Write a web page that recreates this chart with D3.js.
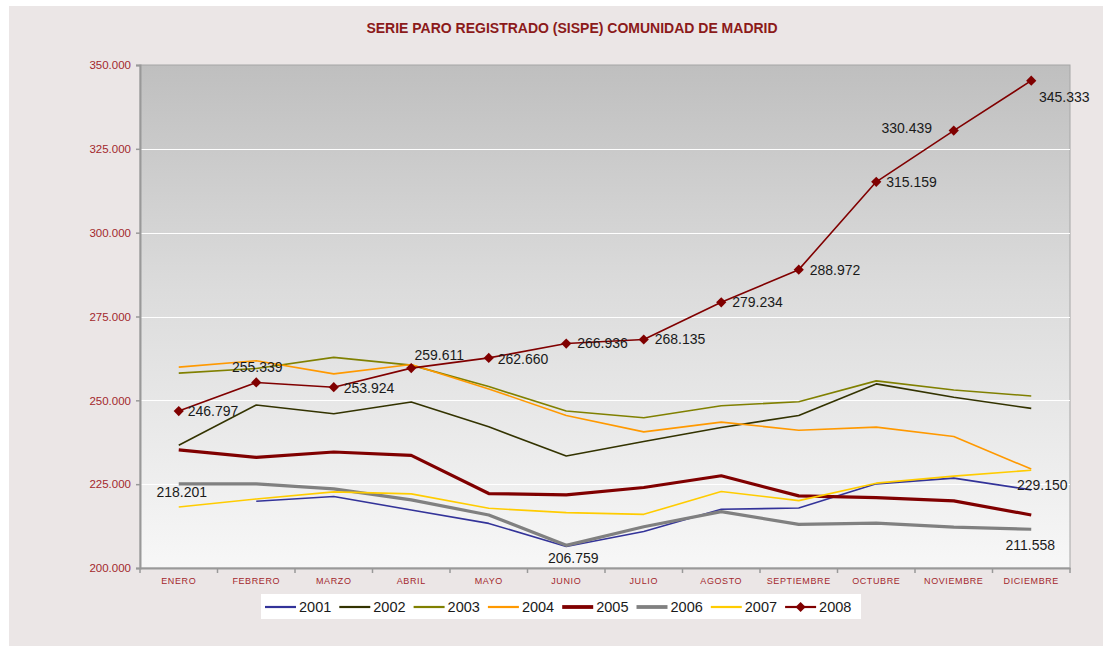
<!DOCTYPE html>
<html>
<head>
<meta charset="utf-8">
<script src="https://cdn.jsdelivr.net/npm/d3@7"></script>
<style>
  html, body { margin: 0; padding: 0; background: #ffffff; }
  svg { display: block; font-family: "Liberation Sans", Arial, sans-serif; }
</style>
</head>
<body>
<svg id="chart" width="1106" height="646"></svg>
<script>
const title = "SERIE PARO REGISTRADO (SISPE) COMUNIDAD DE MADRID";
const months = ["ENERO","FEBRERO","MARZO","ABRIL","MAYO","JUNIO","JULIO","AGOSTO","SEPTIEMBRE","OCTUBRE","NOVIEMBRE","DICIEMBRE"];
const yTicks = [200000, 225000, 250000, 275000, 300000, 325000, 350000];
const years = ["2001","2002","2003","2004","2005","2006","2007","2008"];

const s2001 = [null, 219900, 221300, 217300, 213300, 206400, 210900, 217500, 217900, 225100, 226800, 223300];
const s2002 = [236600, 248600, 246000, 249500, 242100, 233400, 237700, 241900, 245500, 254900, 250900, 247600];
const s2003 = [258100, 259500, 262800, 260500, 254100, 246800, 244800, 248400, 249600, 255800, 253100, 251300];
const s2004 = [259900, 261800, 257900, 260700, 253400, 245500, 240600, 243500, 241100, 242000, 239200, 229500];
const s2005 = [235200, 233000, 234600, 233600, 222200, 221800, 224000, 227500, 221500, 221000, 220000, 215800];
const s2006 = [225100, 225100, 223600, 220300, 215800, 206759, 212300, 216800, 213000, 213400, 212200, 211558];
const s2007 = [218201, 220600, 222700, 222100, 217800, 216500, 216000, 222800, 220100, 225300, 227400, 229150];
const s2008 = [246797, 255339, 253924, 259611, 262660, 266936, 268135, 279234, 288972, 315159, 330439, 345333];

// which points carry a data label: [series, month index]
const labelled = [
  ["2008",0],["2008",1],["2008",2],["2008",3],["2008",4],["2008",5],["2008",6],
  ["2008",7],["2008",8],["2008",9],["2008",10],["2008",11],
  ["2007",0],["2006",5],["2007",11],["2006",11]
];

const seriesValues = {"2001":s2001,"2002":s2002,"2003":s2003,"2004":s2004,"2005":s2005,"2006":s2006,"2007":s2007,"2008":s2008};

// styles
const styles = {
  "2001": {color:"#333399", width:1.6},
  "2002": {color:"#333300", width:1.6},
  "2003": {color:"#808000", width:1.6},
  "2004": {color:"#ff9900", width:1.6},
  "2005": {color:"#800000", width:3.2},
  "2006": {color:"#808080", width:3.2},
  "2007": {color:"#ffcc00", width:1.6},
  "2008": {color:"#800000", width:1.6, marker:true}
};
// label placement (dx, dy relative to point, anchor)
const labelPos = {
  "2008-0":[9,0,"start"], "2008-1":[1,-15,"middle"], "2008-2":[10,1,"start"], "2008-3":[28,-13,"middle"],
  "2008-4":[9,1,"start"], "2008-5":[11,0,"start"], "2008-6":[11,0,"start"], "2008-7":[11,0,"start"],
  "2008-8":[11,0,"start"], "2008-9":[10,0,"start"], "2008-10":[-47,-2,"middle"], "2008-11":[33,16,"middle"],
  "2007-0":[3,-15,"middle"], "2006-5":[7,13,"middle"], "2007-11":[11,15,"middle"], "2006-11":[-1,16,"middle"]
};

const svg = d3.select("#chart");
const m = {left:140, right:1070, top:65, bottom:568};

// outer panel
svg.append("rect").attr("x",9).attr("y",6).attr("width",1094).attr("height",640).attr("fill","#ebe6e6");

const defs = svg.append("defs");
const grad = defs.append("linearGradient").attr("id","bg").attr("x1",0).attr("y1",0).attr("x2",0).attr("y2",1);
grad.append("stop").attr("offset","0%").attr("stop-color","#bfbfbf");
grad.append("stop").attr("offset","45%").attr("stop-color","#dcdcdc");
grad.append("stop").attr("offset","100%").attr("stop-color","#f7f7f7");

const x = d3.scaleBand().domain(months).range([m.left, m.right]);
const y = d3.scaleLinear().domain([200000, 350000]).range([m.bottom, m.top]);

svg.append("rect").attr("x",m.left).attr("y",m.top).attr("width",m.right-m.left).attr("height",m.bottom-m.top)
  .attr("fill","url(#bg)").attr("stroke","#a6a6a6").attr("stroke-width",1);

// gridlines
svg.append("g").selectAll("line").data(yTicks.slice(1,-1)).join("line")
  .attr("x1",m.left).attr("x2",m.right).attr("y1",d=>Math.round(y(d))+0.5).attr("y2",d=>Math.round(y(d))+0.5)
  .attr("stroke","#ffffff").attr("stroke-width",1);

// title
svg.append("text").attr("x",572).attr("y",33).attr("text-anchor","middle")
  .attr("font-size",14).attr("font-weight","bold").attr("fill","#8b1a1a").attr("letter-spacing",0).text(title);

const fmt = v => d3.format(",")(v).replace(/,/g,".");
const fmtAxis = v => d3.format(",.3f")(v/1000).replace(/,/g,"");

// y axis
const yAxis = d3.axisLeft(y).tickValues(yTicks).tickSize(4).tickFormat(v => fmtAxis(v));
const gy = svg.append("g").attr("transform",`translate(${m.left},0)`).call(yAxis);
gy.select(".domain").attr("stroke","#999999").attr("stroke-width",2);
gy.selectAll(".tick line").attr("stroke","#999999").attr("stroke-width",1.5);
gy.selectAll(".tick text").attr("fill","#a3282d").attr("font-size",11.5).attr("x",-9)
  .attr("font-family","'Liberation Sans', Arial, sans-serif");

// x axis
const xAxis = d3.axisBottom(x).tickSize(0).tickPadding(10);
const gx = svg.append("g").attr("transform",`translate(0,${m.bottom})`).call(xAxis);
gx.select(".domain").attr("stroke","#999999").attr("stroke-width",2);
gx.selectAll(".tick text").attr("fill","#a3282d").attr("font-size",9).attr("letter-spacing",0.6)
  .attr("font-family","'Liberation Sans', Arial, sans-serif").attr("dy","0.71em").attr("y",10);
// tick marks at band boundaries
const bounds = months.map(mm => x(mm)).concat([x.range()[1]]);
gx.append("g").selectAll("line").data(bounds).join("line")
  .attr("x1",d=>d).attr("x2",d=>d).attr("y1",0).attr("y2",5)
  .attr("stroke","#999999").attr("stroke-width",1.5);

// lines
const line = d3.line().defined(d => d.v != null).x(d => x(d.m) + x.bandwidth()/2).y(d => y(d.v));
const gl = svg.append("g");
years.forEach(yr => {
  const pts = seriesValues[yr].map((v,i) => ({m:months[i], v}));
  gl.append("path").datum(pts).attr("d",line).attr("fill","none")
    .attr("stroke",styles[yr].color).attr("stroke-width",styles[yr].width)
    .attr("stroke-linejoin","round");
  if (styles[yr].marker) {
    gl.append("g").selectAll("path").data(pts.filter(d=>d.v!=null)).join("path")
      .attr("d", d3.symbol(d3.symbolSquare, 52)())
      .attr("transform", d => `translate(${x(d.m)+x.bandwidth()/2},${y(d.v)}) rotate(45)`)
      .attr("fill",styles[yr].color);
  }
});

// data labels
svg.append("g").selectAll("text").data(labelled).join("text")
  .attr("x", d => x(months[d[1]]) + x.bandwidth()/2 + labelPos[d[0]+"-"+d[1]][0])
  .attr("y", d => y(seriesValues[d[0]][d[1]]) + labelPos[d[0]+"-"+d[1]][1])
  .attr("dy","0.35em")
  .attr("text-anchor", d => labelPos[d[0]+"-"+d[1]][2])
  .attr("font-size",14).attr("fill","#1a1a1a")
  .text(d => fmt(seriesValues[d[0]][d[1]]));

// legend
const lg = svg.append("g");
lg.append("rect").attr("x",261).attr("y",594).attr("width",600).attr("height",25).attr("fill","#ffffff");
const item = lg.selectAll("g").data(years).join("g")
  .attr("transform",(d,i)=>`translate(${265 + i*74.3},607)`);
item.append("line").attr("x1",0).attr("x2",31).attr("y1",0).attr("y2",0)
  .attr("stroke",d=>styles[d].color).attr("stroke-width",d=>styles[d].width+0.6);
item.filter(d=>styles[d].marker).append("path")
  .attr("d", d3.symbol(d3.symbolSquare, 52)()).attr("transform","translate(15.5,0) rotate(45)")
  .attr("fill",d=>styles[d].color);
item.append("text").attr("x",34).attr("y",0).attr("dy","0.36em").attr("font-size",14.5).attr("fill","#1a1a1a").text(d=>d);
</script>
</body>
</html>
